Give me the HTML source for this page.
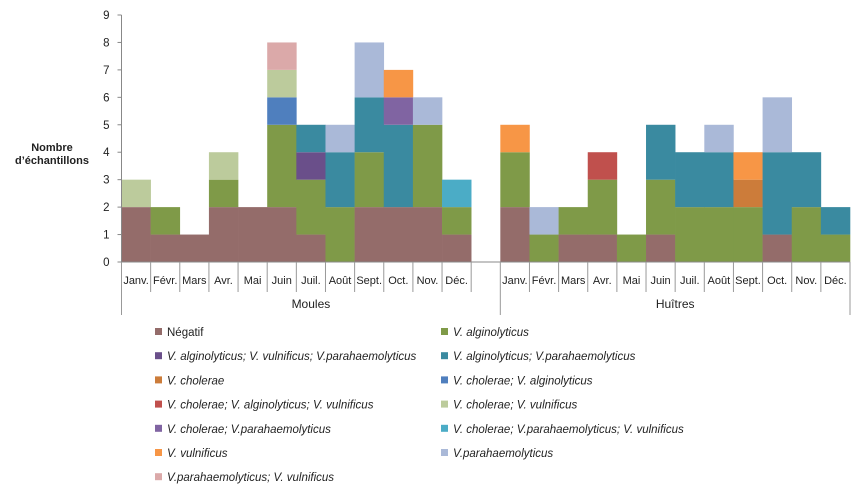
<!DOCTYPE html>
<html><head><meta charset="utf-8"><style>
body{margin:0;background:#fff;font-family:"Liberation Sans",Arial,sans-serif;}
svg text{font-family:"Liberation Sans",Arial,sans-serif;}
</style></head><body>
<svg id="c" width="864" height="495"></svg>
<script>
const months=["Janv.","Févr.","Mars","Avr.","Mai","Juin","Juil.","Août","Sept.","Oct.","Nov.","Déc."];
const groups=["Moules","Huîtres"];
const seriesNames=["Négatif","V. alginolyticus","V. alginolyticus; V. vulnificus; V.parahaemolyticus","V. alginolyticus; V.parahaemolyticus","V. cholerae","V. cholerae; V. alginolyticus","V. cholerae; V. alginolyticus; V. vulnificus","V. cholerae; V. vulnificus","V. cholerae; V.parahaemolyticus","V. cholerae; V.parahaemolyticus; V. vulnificus","V. vulnificus","V.parahaemolyticus","V.parahaemolyticus; V. vulnificus"];
const seriesColors=["#946c6a","#7f9a48","#6a4f8a","#3a8aa0","#cc7c3a","#4f7fbe","#c0504d","#bccb9c","#8064a2","#4bacc6","#f79646","#aab9d8","#dba9a9"];
// values per series: 12 Moules months, then 12 Huîtres months
const sNeg =[2,1,1,2,2,2,1,0,2,2,2,1, 2,0,1,1,0,1,0,0,0,1,0,0];
const sAlg =[0,1,0,1,0,3,2,2,2,0,3,1, 2,1,1,2,1,2,2,2,2,0,2,1];
const sAVP =[0,0,0,0,0,0,1,0,0,0,0,0, 0,0,0,0,0,0,0,0,0,0,0,0];
const sAP  =[0,0,0,0,0,0,1,2,2,3,0,0, 0,0,0,0,0,2,2,2,0,3,2,1];
const sC   =[0,0,0,0,0,0,0,0,0,0,0,0, 0,0,0,0,0,0,0,0,1,0,0,0];
const sCA  =[0,0,0,0,0,1,0,0,0,0,0,0, 0,0,0,0,0,0,0,0,0,0,0,0];
const sCAV =[0,0,0,0,0,0,0,0,0,0,0,0, 0,0,0,1,0,0,0,0,0,0,0,0];
const sCV  =[1,0,0,1,0,1,0,0,0,0,0,0, 0,0,0,0,0,0,0,0,0,0,0,0];
const sCP  =[0,0,0,0,0,0,0,0,0,1,0,0, 0,0,0,0,0,0,0,0,0,0,0,0];
const sCPV =[0,0,0,0,0,0,0,0,0,0,0,1, 0,0,0,0,0,0,0,0,0,0,0,0];
const sV   =[0,0,0,0,0,0,0,0,0,1,0,0, 1,0,0,0,0,0,0,0,1,0,0,0];
const sP   =[0,0,0,0,0,0,0,1,2,0,1,0, 0,1,0,0,0,0,0,1,0,2,0,0];
const sPV  =[0,0,0,0,0,1,0,0,0,0,0,0, 0,0,0,0,0,0,0,0,0,0,0,0];
const series=[sNeg,sAlg,sAVP,sAP,sC,sCA,sCAV,sCV,sCP,sCPV,sV,sP,sPV];
const yTicks=[0,1,2,3,4,5,6,7,8,9];

const svg=document.getElementById('c');
const NS="http://www.w3.org/2000/svg";
function el(t,a,txt){const e=document.createElementNS(NS,t);for(const k in a)e.setAttribute(k,a[k]);if(txt!=null)e.textContent=txt;svg.appendChild(e);return e;}
const x0=121.5,x1=850,y0=262,y9=15,nSlots=25,slotW=(x1-x0)/nSlots;
const y=v=>y0-(y0-y9)*v/9;
function slotX(i){return x0+(i<12?i:i+1)*slotW;}

for(let i=0;i<24;i++){
  let cum=0;
  for(let s=0;s<series.length;s++){
    const v=series[s][i]; if(!v)continue;
    const r=el('rect',{x:slotX(i),y:y(cum+v),width:slotW+0.3,height:y(cum)-y(cum+v),fill:seriesColors[s]});
    
    
    cum+=v;
  }
}
const ya=el('line',{x1:x0,y1:y9,x2:x0,y2:y0,stroke:'#888','stroke-width':1});

for(const t of yTicks){
  el('line',{x1:x0-4,y1:y(t),x2:x0,y2:y(t),stroke:'#888'});
  const tx=el('text',{x:x0-12,y:y(t)+4,'text-anchor':'end','font-size':11.5,fill:'#222'},t);
  
}
const xa=el('line',{x1:x0,y1:y0,x2:x1,y2:y0,stroke:'#888'});

for(let i=0;i<24;i++){
  const cx=slotX(i)+slotW/2;
  const tx=el('text',{x:cx,y:284,'text-anchor':'middle','font-size':11,fill:'#222'},months[i%12]);
  
  el('line',{x1:slotX(i)+slotW,y1:y0,x2:slotX(i)+slotW,y2:292,stroke:'#999'});
}
[x0,x0+13*slotW,x1].forEach(xx=>el('line',{x1:xx,y1:y0,x2:xx,y2:315,stroke:'#999'}));
groups.forEach((g,gi)=>{
  const a=gi?x0+13*slotW:x0,b=gi?x1:x0+13*slotW;
  const tx=el('text',{x:(a+b)/2,y:308,'text-anchor':'middle','font-size':12,fill:'#222'},g);
  
});
const t1=el('text',{x:52,y:151,'text-anchor':'middle','font-size':11,'font-weight':'bold',fill:'#222'},'Nombre');

const t2=el('text',{x:52,y:164,'text-anchor':'middle','font-size':11,'font-weight':'bold',fill:'#222'},'d’échantillons');

seriesNames.forEach((n,i)=>{
  const col=i%2,row=Math.floor(i/2);
  const lx=col?441:155,ly=332+row*24.2;
  const sq=el('rect',{x:lx,y:ly-4,width:7,height:7,fill:seriesColors[i]});
  
  const tx=el('text',{x:lx+12,y:ly+4,'font-size':11.5,fill:'#222','font-style':i==0?'normal':'italic'},n);
  
});
</script>
</body></html>
